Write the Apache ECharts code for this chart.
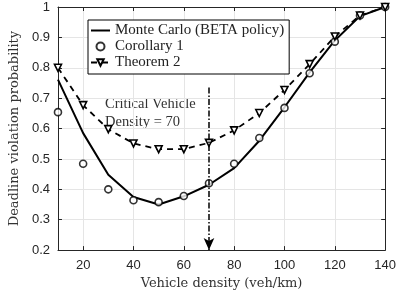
<!DOCTYPE html>
<html><head><meta charset="utf-8">
<script src="https://cdn.jsdelivr.net/npm/echarts@6/dist/echarts.min.js"></script>
<style>html,body{margin:0;padding:0;background:#fff}#c{width:399px;height:295px}</style>
</head><body><div id="c"></div>
<script>
var density = [10,20,30,40,50,60,70,80,90,100,110,120,130,140];
var monteCarlo = [0.761,0.585,0.448,0.375,0.350,0.377,0.415,0.470,0.560,0.670,0.785,0.890,0.970,1.0];
var corollary1 = [0.654,0.484,0.400,0.364,0.358,0.378,0.420,0.484,0.569,0.668,0.782,0.886,0.972,1.0];
var theorem2 = [0.800,0.677,0.598,0.551,0.532,0.532,0.553,0.594,0.651,0.727,0.812,0.903,0.972,1.0];
var xTicks = [20,40,60,80,100,120,140];
var yTicks = [0.2,0.3,0.4,0.5,0.6,0.7,0.8,0.9,1];
var criticalX = 70, arrowTop = 0.735, arrowBottom = 0.2;

function zip(a,b){return a.map(function(v,i){return [v,b[i]];});}
var serif = '"Liberation Serif", "DejaVu Serif", serif';
var serifAxis = '"DejaVu Serif", "Liberation Serif", serif';
var sans = '"Liberation Sans", Arial, sans-serif';
var axisCol = '#262626';

var chart = echarts.init(document.getElementById('c'));
var commonX = {type:'value', min:10, max:140, interval:10,
  axisLine:{show:true, lineStyle:{color:axisCol, width:1}},
  axisTick:{show:true, inside:true, length:4, customValues:xTicks, lineStyle:{color:axisCol}},
  splitLine:{show:false}};
var commonY = {type:'value', min:0.2, max:1, interval:0.1,
  axisLine:{show:true, lineStyle:{color:axisCol, width:1}},
  axisTick:{show:true, inside:true, length:4, lineStyle:{color:axisCol}},
  splitLine:{show:false}};

chart.setOption({
  animation:false,
  backgroundColor:'#fff',
  grid:{left:44, right:13, top:7, bottom:38, containLabel:false},
  xAxis:[
    Object.assign({}, commonX, {position:'bottom',
      axisLabel:{customValues:xTicks, margin:9, color:axisCol, fontFamily:sans, fontSize:13},
      splitLine:{show:true, lineStyle:{color:'#e5e5e5', width:1}},
      name:'Vehicle density (veh/km)', nameLocation:'middle', nameGap:22,
      nameTextStyle:{fontFamily:serifAxis, fontSize:13, color:'#333'}}),
    Object.assign({}, commonX, {position:'top', axisLabel:{show:false}})
  ],
  yAxis:[
    Object.assign({}, commonY, {position:'left',
      axisLabel:{margin:8, color:axisCol, fontFamily:sans, fontSize:13,
        formatter:function(v){return String(Math.round(v*10)/10);}},
      splitLine:{show:true, lineStyle:{color:'#e5e5e5', width:1}},
      name:'Deadline violation probability', nameLocation:'middle', nameGap:34,
      nameTextStyle:{fontFamily:serifAxis, fontSize:13, color:'#333'}}),
    Object.assign({}, commonY, {position:'right', axisLabel:{show:false}})
  ],
  legend:{
    orient:'vertical', left:88, top:20, itemGap:1, itemWidth:19, itemHeight:8,
    padding:[3,5,4,2], borderColor:'#000', borderWidth:1, backgroundColor:'#fff',
    textStyle:{fontFamily:serif, fontSize:15, color:'#222'},
    data:[{name:'Monte Carlo (BETA policy)', itemStyle:{opacity:0}},'Corollary 1','Theorem 2']
  },
  series:[
    {name:'Monte Carlo (BETA policy)', type:'line', data:zip(density, monteCarlo),
      showSymbol:false, symbol:'none', lineStyle:{color:'#000', width:2}, itemStyle:{color:'#000'}, z:3},
    {name:'Corollary 1', type:'scatter', data:zip(density, corollary1),
      symbol:'circle', symbolSize:7, itemStyle:{color:'#fff', borderColor:'#000', borderWidth:1.6}, z:4},
    {name:'Theorem 2', type:'line', data:zip(density, theorem2),
      symbol:'triangle', symbolRotate:180, symbolSize:7, showSymbol:true,
      lineStyle:{color:'#000', width:1.8, type:[6,5]},
      itemStyle:{color:'#fff', borderColor:'#000', borderWidth:1.6}, z:4,
      markLine:{silent:true, symbol:['none','arrow'], symbolSize:[8,12],
        label:{show:false},
        lineStyle:{color:'#000', width:1.5, type:[6,2,1.5,2]},
        data:[[{coord:[criticalX, arrowTop]},{coord:[criticalX, arrowBottom]}]]}}
  ],
  graphic:[
    {type:'text', left:105, top:97, style:{text:'Critical Vehicle', fontFamily:serif, fontSize:14.5, fill:'#333'}},
    {type:'text', left:105, top:115, style:{text:'Density = 70', fontFamily:serif, fontSize:14.5, fill:'#333'}}
  ]
});
</script></body></html>
